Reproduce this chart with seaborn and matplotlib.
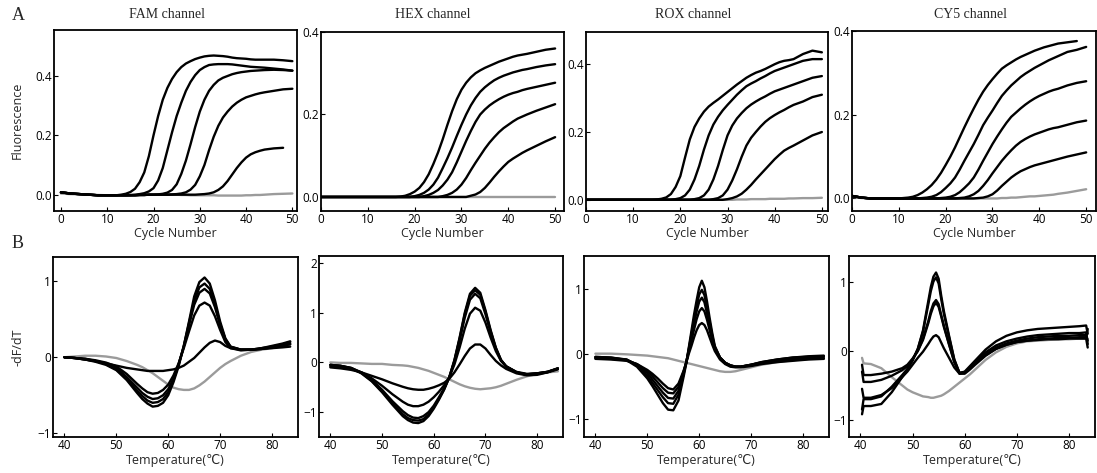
import numpy as np
import pandas as pd
import matplotlib
matplotlib.use("Agg")
import matplotlib.pyplot as plt
import seaborn as sns

# ---------------- data: amplification ----------------
cycles = [0, 2, 4, 6, 8, 10, 12, 13, 14, 15, 16, 17, 18, 19, 20, 21, 22, 23, 24, 25, 26, 27, 28,
          29, 30, 31, 32, 33, 34, 35, 36, 37, 38, 39, 40, 41, 42, 43, 44, 46, 48, 50]

fam_start = [0.008, 0.004, 0.002, 0.0, -0.002, -0.002, -0.002]
fam_a1 = fam_start + [0.0, 0.003, 0.009, 0.02, 0.042, 0.075, 0.13, 0.2, 0.265, 0.32, 0.36, 0.39, 0.413, 0.43, 0.442, 0.45, 0.457, 0.462, 0.466, 0.468, 0.469, 0.468, 0.467, 0.465, 0.462, 0.46, 0.459, 0.458, 0.456, 0.455, 0.455, 0.455] + [0.455, 0.453, 0.45]
fam_a2 = fam_start + [-0.002, -0.002, -0.001, 0.0, 0.002, 0.005, 0.011, 0.022, 0.048, 0.09, 0.15, 0.21, 0.265, 0.31, 0.35, 0.38, 0.403, 0.42, 0.43, 0.437, 0.439, 0.44, 0.44, 0.44, 0.439, 0.437, 0.435, 0.433, 0.431, 0.43, 0.429, 0.428] + [0.425, 0.422, 0.418]
fam_a3 = fam_start + [-0.002, -0.002, -0.002, -0.002, -0.001, -0.001, 0.0, 0.0, 0.001, 0.003, 0.007, 0.016, 0.035, 0.07, 0.115, 0.17, 0.228, 0.28, 0.32, 0.35, 0.37, 0.385, 0.394, 0.4, 0.406, 0.41, 0.413, 0.415, 0.417, 0.418, 0.419, 0.42] + [0.421, 0.42, 0.418]
fam_a4 = fam_start + [-0.002, -0.002, -0.002, -0.002, -0.001, -0.001, 0.0, 0.0, 0.0, 0.0, 0.0, 0.001, 0.002, 0.004, 0.008, 0.017, 0.033, 0.062, 0.1, 0.15, 0.195, 0.232, 0.26, 0.28, 0.297, 0.31, 0.32, 0.328, 0.333, 0.338, 0.342, 0.345] + [0.35, 0.355, 0.357]
fam_a5 = fam_start + [-0.002, -0.002, -0.002, -0.002, -0.001, -0.001, 0.0, 0.0, 0.0, 0.0, 0.0, 0.0, 0.0, 0.0, 0.0, 0.0, 0.0, 0.001, 0.002, 0.004, 0.008, 0.016, 0.028, 0.046, 0.068, 0.09, 0.109, 0.125, 0.136, 0.143, 0.148, 0.152] + [0.156, 0.158, np.nan]
fam_neg = [0.004, 0.002, 0.001, 0.0, -0.001, -0.002, -0.002] + [-0.002, -0.002, -0.002, -0.001, -0.001, 0.0, 0.0, 0.0, 0.0, 0.0, 0.0, 0.0, 0.0, -0.001, -0.001, -0.002, -0.002, -0.002, -0.002, -0.002, -0.002, -0.003, -0.003, -0.003, -0.003, -0.003, -0.003, -0.002, -0.002, -0.001, -0.001, 0.0] + [0.002, 0.003, 0.004]

hex_a1 = [0.0] * 7 + [0.0, 0.0, 0.0, 0.0, 0.001, 0.003, 0.007, 0.013, 0.022, 0.036, 0.055, 0.08, 0.108, 0.14, 0.175, 0.208, 0.237, 0.26, 0.277, 0.29, 0.3, 0.307, 0.313, 0.318, 0.323, 0.328, 0.332, 0.336, 0.34, 0.343, 0.345, 0.347] + [0.352, 0.357, 0.36]
hex_a2 = [0.0] * 7 + [0.0] * 7 + [0.002, 0.005, 0.01, 0.018, 0.03, 0.047, 0.07, 0.094, 0.12, 0.148, 0.175, 0.2, 0.222, 0.24, 0.255, 0.266, 0.275, 0.283, 0.289, 0.294, 0.298, 0.302, 0.305, 0.308, 0.31] + [0.315, 0.319, 0.322]
hex_a3 = [0.0] * 7 + [0.0] * 9 + [0.002, 0.005, 0.01, 0.017, 0.028, 0.042, 0.06, 0.084, 0.11, 0.136, 0.16, 0.182, 0.2, 0.212, 0.222, 0.23, 0.237, 0.243, 0.248, 0.252, 0.255, 0.259, 0.262] + [0.267, 0.272, 0.277]
hex_a4 = [0.0] * 7 + [0.0] * 13 + [0.002, 0.005, 0.01, 0.018, 0.03, 0.046, 0.065, 0.083, 0.1, 0.117, 0.132, 0.145, 0.157, 0.167, 0.175, 0.183, 0.19, 0.195, 0.2] + [0.209, 0.217, 0.225]
hex_a5 = [0.0] * 7 + [0.0] * 19 + [0.003, 0.006, 0.012, 0.022, 0.035, 0.049, 0.062, 0.074, 0.085, 0.093, 0.1, 0.107, 0.113] + [0.124, 0.135, 0.145]
hex_neg = [0.0] * 42

rox_a1 = [0.0] * 7 + [0.0, 0.0, 0.001, 0.003, 0.007, 0.017, 0.038, 0.07, 0.125, 0.178, 0.215, 0.24, 0.26, 0.275, 0.286, 0.296, 0.307, 0.318, 0.329, 0.34, 0.35, 0.36, 0.368, 0.375, 0.38, 0.386, 0.393, 0.4, 0.406, 0.41, 0.412, 0.415] + [0.43, 0.44, 0.435]
rox_a2 = [0.0] * 7 + [0.0] * 6 + [0.002, 0.005, 0.013, 0.03, 0.06, 0.1, 0.148, 0.19, 0.222, 0.245, 0.264, 0.28, 0.295, 0.31, 0.323, 0.335, 0.343, 0.35, 0.358, 0.365, 0.373, 0.38, 0.385, 0.39, 0.395, 0.4] + [0.41, 0.415, 0.415]
rox_a3 = [0.0] * 7 + [0.0] * 10 + [0.002, 0.005, 0.013, 0.03, 0.06, 0.1, 0.147, 0.19, 0.219, 0.24, 0.256, 0.27, 0.281, 0.29, 0.298, 0.305, 0.313, 0.32, 0.325, 0.33, 0.335, 0.34] + [0.35, 0.36, 0.365]
rox_a4 = [0.0] * 7 + [0.0] * 14 + [0.002, 0.005, 0.013, 0.03, 0.057, 0.09, 0.127, 0.16, 0.183, 0.2, 0.216, 0.23, 0.241, 0.25, 0.258, 0.265, 0.273, 0.28] + [0.29, 0.303, 0.31]
rox_a5 = [0.0] * 7 + [0.0] * 17 + [0.002, 0.005, 0.01, 0.018, 0.03, 0.044, 0.06, 0.075, 0.09, 0.105, 0.12, 0.133, 0.145, 0.153, 0.16] + [0.175, 0.19, 0.2]
rox_neg = [0.0] * 7 + [0.0] * 19 + [0.001, 0.001, 0.001, 0.002, 0.002, 0.002, 0.002, 0.003, 0.003, 0.003, 0.003, 0.004, 0.004] + [0.005, 0.005, 0.006]

cy5_a1 = [0.006, 0.002, 0.0, 0.0, 0.0, 0.0, 0.002] + [0.004, 0.008, 0.014, 0.022, 0.032, 0.045, 0.061, 0.08, 0.1, 0.122, 0.146, 0.17, 0.193, 0.215, 0.236, 0.255, 0.271, 0.285, 0.298, 0.31, 0.318, 0.325, 0.332, 0.338, 0.343, 0.348, 0.353, 0.357, 0.361, 0.364, 0.367, 0.37] + [0.373, 0.376, np.nan]
cy5_a2 = [0.006, 0.002, 0.0, 0.0, 0.0, 0.0, 0.0] + [0.0, 0.0, 0.001, 0.002, 0.004, 0.008, 0.015, 0.025, 0.036, 0.05, 0.069, 0.09, 0.11, 0.13, 0.152, 0.175, 0.193, 0.21, 0.228, 0.245, 0.258, 0.27, 0.28, 0.29, 0.298, 0.305, 0.312, 0.318, 0.324, 0.33, 0.335, 0.34] + [0.35, 0.355, 0.362]
cy5_a3 = [0.006, 0.002, 0.0, 0.0, 0.0, 0.0, 0.0] + [0.0] * 6 + [0.001, 0.002, 0.004, 0.008, 0.015, 0.025, 0.036, 0.05, 0.069, 0.09, 0.11, 0.13, 0.148, 0.165, 0.181, 0.195, 0.205, 0.215, 0.224, 0.232, 0.239, 0.245, 0.25, 0.255, 0.259, 0.262] + [0.27, 0.276, 0.28]
cy5_a4 = [0.006, 0.002, 0.0, 0.0, 0.0, 0.0, 0.0] + [0.0] * 10 + [0.001, 0.002, 0.005, 0.01, 0.018, 0.03, 0.044, 0.06, 0.075, 0.09, 0.103, 0.115, 0.126, 0.135, 0.142, 0.148, 0.153, 0.157, 0.161, 0.165, 0.168, 0.17] + [0.176, 0.182, 0.186]
cy5_a5 = [0.006, 0.002, 0.0, 0.0, 0.0, 0.0, 0.0] + [0.0] * 14 + [0.001, 0.002, 0.005, 0.01, 0.019, 0.03, 0.04, 0.05, 0.058, 0.065, 0.07, 0.075, 0.079, 0.082, 0.085, 0.088, 0.091, 0.094] + [0.1, 0.105, 0.11]
cy5_neg = [0.004, 0.001, 0.0, 0.0, 0.0, 0.0, 0.0] + [0.0] * 19 + [0.001, 0.001, 0.002, 0.002, 0.003, 0.004, 0.005, 0.005, 0.006, 0.007, 0.008, 0.009, 0.011] + [0.014, 0.018, 0.022]

# ---------------- data: melt curves (-dF/dT) ----------------
fam_t = [40, 42, 44, 46, 48, 50, 52, 54, 55, 56, 57, 58, 59, 60, 61, 62, 63, 64, 65, 66, 67, 68, 69, 70, 71, 72, 74, 76, 78, 80, 82, 83.5]
fam_m1 = [0.0, -0.01, -0.03, -0.06, -0.1, -0.17, -0.3, -0.47, -0.55, -0.61, -0.65, -0.64, -0.6, -0.5, -0.33, -0.12, 0.15, 0.47, 0.8, 0.99, 1.05, 0.97, 0.75, 0.47, 0.25, 0.14, 0.1, 0.1, 0.12, 0.15, 0.18, 0.21]
fam_m2 = [0.0, -0.01, -0.03, -0.05, -0.09, -0.16, -0.28, -0.44, -0.51, -0.57, -0.6, -0.59, -0.55, -0.46, -0.3, -0.1, 0.15, 0.45, 0.74, 0.92, 0.97, 0.9, 0.7, 0.44, 0.24, 0.14, 0.1, 0.1, 0.12, 0.14, 0.17, 0.2]
fam_m3 = [0.0, -0.01, -0.02, -0.05, -0.08, -0.14, -0.26, -0.4, -0.47, -0.52, -0.55, -0.54, -0.5, -0.42, -0.28, -0.09, 0.14, 0.42, 0.69, 0.85, 0.9, 0.84, 0.66, 0.42, 0.23, 0.13, 0.1, 0.1, 0.11, 0.13, 0.16, 0.18]
fam_m4 = [0.0, -0.01, -0.02, -0.04, -0.07, -0.12, -0.22, -0.35, -0.41, -0.46, -0.48, -0.47, -0.43, -0.36, -0.24, -0.08, 0.12, 0.34, 0.55, 0.68, 0.72, 0.68, 0.54, 0.36, 0.2, 0.12, 0.09, 0.1, 0.11, 0.13, 0.15, 0.17]
fam_m5 = [0.0, -0.01, -0.03, -0.05, -0.08, -0.11, -0.14, -0.16, -0.17, -0.18, -0.18, -0.18, -0.18, -0.17, -0.16, -0.14, -0.11, -0.06, -0.01, 0.06, 0.13, 0.19, 0.22, 0.2, 0.15, 0.12, 0.1, 0.1, 0.11, 0.12, 0.13, 0.14]
fam_mneg = [0.0, 0.01, 0.02, 0.02, 0.01, -0.01, -0.05, -0.1, -0.13, -0.17, -0.21, -0.26, -0.31, -0.36, -0.4, -0.42, -0.43, -0.43, -0.41, -0.37, -0.32, -0.26, -0.2, -0.14, -0.09, -0.05, 0.02, 0.07, 0.1, 0.12, 0.15, 0.17]

hex_t = [40, 42, 44, 46, 48, 50, 52, 54, 55, 56, 57, 58, 59, 60, 61, 62, 63, 64, 65, 66, 67, 68, 69, 70, 71, 72, 73, 74, 76, 78, 80, 82, 84]
hex_m1 = [-0.05, -0.07, -0.12, -0.22, -0.38, -0.6, -0.85, -1.08, -1.16, -1.21, -1.22, -1.18, -1.08, -0.93, -0.75, -0.55, -0.3, 0.05, 0.5, 1.0, 1.38, 1.5, 1.4, 1.05, 0.65, 0.3, 0.05, -0.08, -0.2, -0.25, -0.23, -0.2, -0.12]
hex_m2 = [-0.05, -0.07, -0.11, -0.21, -0.37, -0.58, -0.82, -1.04, -1.12, -1.16, -1.17, -1.14, -1.05, -0.9, -0.73, -0.54, -0.3, 0.04, 0.48, 0.97, 1.34, 1.45, 1.36, 1.02, 0.63, 0.29, 0.05, -0.08, -0.2, -0.24, -0.22, -0.19, -0.12]
hex_m3 = [-0.05, -0.07, -0.11, -0.2, -0.35, -0.55, -0.78, -0.98, -1.06, -1.11, -1.12, -1.08, -1.0, -0.87, -0.7, -0.52, -0.3, 0.02, 0.44, 0.9, 1.26, 1.38, 1.29, 0.97, 0.6, 0.27, 0.04, -0.08, -0.2, -0.24, -0.22, -0.19, -0.12]
hex_m4 = [-0.08, -0.1, -0.13, -0.2, -0.32, -0.47, -0.64, -0.79, -0.85, -0.88, -0.88, -0.85, -0.79, -0.7, -0.59, -0.46, -0.3, -0.04, 0.3, 0.68, 0.98, 1.1, 1.04, 0.8, 0.5, 0.23, 0.03, -0.08, -0.19, -0.23, -0.22, -0.19, -0.13]
hex_m5 = [-0.1, -0.12, -0.15, -0.2, -0.27, -0.34, -0.42, -0.49, -0.52, -0.54, -0.55, -0.55, -0.53, -0.5, -0.46, -0.41, -0.33, -0.2, -0.04, 0.13, 0.28, 0.36, 0.36, 0.28, 0.15, 0.03, -0.06, -0.13, -0.22, -0.26, -0.25, -0.2, -0.14]
hex_mneg = [0.0, -0.01, -0.01, -0.02, -0.03, -0.03, -0.05, -0.06, -0.07, -0.09, -0.11, -0.14, -0.17, -0.21, -0.25, -0.29, -0.34, -0.39, -0.44, -0.48, -0.51, -0.53, -0.54, -0.53, -0.52, -0.5, -0.47, -0.43, -0.35, -0.28, -0.23, -0.2, -0.18]

rox_t = [40, 43, 46, 48, 50, 51, 52, 53, 54, 55, 56, 57, 57.5, 58, 58.5, 59, 59.5, 60, 60.5, 61, 61.5, 62, 62.5, 63, 64, 65, 66, 67, 68, 70, 72, 75, 78, 81, 84]
rox_m1 = [-0.05, -0.06, -0.1, -0.2, -0.38, -0.5, -0.63, -0.76, -0.86, -0.87, -0.72, -0.35, -0.15, 0.1, 0.35, 0.6, 0.82, 1.02, 1.12, 1.02, 0.8, 0.55, 0.32, 0.12, -0.06, -0.14, -0.18, -0.2, -0.2, -0.17, -0.13, -0.09, -0.06, -0.04, -0.03]
rox_m2 = [-0.05, -0.06, -0.09, -0.18, -0.34, -0.45, -0.56, -0.67, -0.76, -0.77, -0.63, -0.31, -0.14, 0.08, 0.3, 0.53, 0.74, 0.91, 0.98, 0.9, 0.7, 0.49, 0.28, 0.1, -0.06, -0.14, -0.18, -0.2, -0.2, -0.17, -0.13, -0.09, -0.06, -0.05, -0.04]
rox_m3 = [-0.06, -0.07, -0.09, -0.17, -0.3, -0.4, -0.5, -0.6, -0.68, -0.69, -0.57, -0.29, -0.13, 0.06, 0.26, 0.46, 0.65, 0.8, 0.86, 0.79, 0.62, 0.43, 0.25, 0.09, -0.06, -0.14, -0.18, -0.2, -0.2, -0.17, -0.14, -0.1, -0.07, -0.06, -0.05]
rox_m4 = [-0.07, -0.08, -0.1, -0.16, -0.27, -0.35, -0.44, -0.53, -0.6, -0.61, -0.51, -0.27, -0.13, 0.04, 0.2, 0.37, 0.53, 0.65, 0.7, 0.65, 0.52, 0.36, 0.21, 0.07, -0.07, -0.15, -0.19, -0.2, -0.2, -0.18, -0.15, -0.11, -0.09, -0.08, -0.07]
rox_m5 = [-0.08, -0.09, -0.11, -0.16, -0.25, -0.31, -0.38, -0.46, -0.53, -0.55, -0.46, -0.26, -0.14, 0.0, 0.12, 0.25, 0.36, 0.44, 0.47, 0.44, 0.36, 0.25, 0.14, 0.04, -0.09, -0.16, -0.2, -0.21, -0.21, -0.19, -0.16, -0.13, -0.11, -0.09, -0.08]
rox_mneg = [0.0, 0.0, -0.01, -0.02, -0.03, -0.04, -0.05, -0.06, -0.07, -0.09, -0.11, -0.13, -0.14, -0.15, -0.16, -0.17, -0.18, -0.19, -0.2, -0.21, -0.22, -0.23, -0.24, -0.25, -0.27, -0.28, -0.28, -0.27, -0.25, -0.21, -0.17, -0.13, -0.1, -0.08, -0.07]

cy5_t = [40.3, 40.6, 42, 44, 46, 48, 49, 50, 51, 52, 53, 53.5, 54, 54.5, 55, 55.5, 56, 57, 58, 59, 60, 61, 62, 64, 66, 68, 70, 72, 74, 76, 78, 80, 82, 83.3, 83.6]
cy5_m1 = [-0.92, -0.8, -0.8, -0.77, -0.6, -0.38, -0.27, -0.14, 0.03, 0.3, 0.72, 0.93, 1.08, 1.14, 1.05, 0.8, 0.58, 0.22, -0.12, -0.32, -0.3, -0.22, -0.14, 0.02, 0.14, 0.22, 0.27, 0.3, 0.32, 0.33, 0.34, 0.35, 0.36, 0.37, 0.25]
cy5_m2 = [-0.85, -0.7, -0.7, -0.66, -0.52, -0.35, -0.26, -0.13, 0.03, 0.28, 0.67, 0.87, 1.01, 1.07, 0.98, 0.75, 0.54, 0.2, -0.13, -0.32, -0.31, -0.24, -0.16, -0.02, 0.08, 0.14, 0.18, 0.21, 0.23, 0.24, 0.25, 0.26, 0.26, 0.27, 0.1]
cy5_m3 = [-0.3, -0.45, -0.45, -0.42, -0.36, -0.28, -0.22, -0.12, 0.0, 0.18, 0.43, 0.58, 0.69, 0.74, 0.68, 0.52, 0.37, 0.1, -0.16, -0.33, -0.32, -0.25, -0.18, -0.05, 0.05, 0.11, 0.15, 0.18, 0.2, 0.21, 0.22, 0.22, 0.23, 0.23, 0.15]
cy5_m4 = [-0.2, -0.35, -0.35, -0.33, -0.3, -0.25, -0.2, -0.11, 0.0, 0.16, 0.4, 0.54, 0.65, 0.7, 0.64, 0.5, 0.35, 0.09, -0.16, -0.32, -0.31, -0.25, -0.18, -0.06, 0.03, 0.09, 0.13, 0.15, 0.17, 0.18, 0.19, 0.19, 0.2, 0.2, 0.32]
cy5_m5 = [-0.55, -0.68, -0.68, -0.64, -0.54, -0.38, -0.3, -0.2, -0.1, -0.01, 0.1, 0.16, 0.21, 0.23, 0.2, 0.12, 0.04, -0.1, -0.24, -0.33, -0.33, -0.27, -0.2, -0.07, 0.03, 0.09, 0.13, 0.15, 0.16, 0.17, 0.17, 0.18, 0.18, 0.18, 0.05]
cy5_mneg = [-0.1, -0.18, -0.19, -0.25, -0.38, -0.5, -0.56, -0.6, -0.63, -0.66, -0.67, -0.68, -0.68, -0.67, -0.66, -0.65, -0.63, -0.58, -0.52, -0.46, -0.4, -0.34, -0.27, -0.13, -0.02, 0.06, 0.11, 0.14, 0.15, 0.16, 0.17, 0.17, 0.18, 0.18, 0.18]

channels = ["FAM channel", "HEX channel", "ROX channel", "CY5 channel"]

# ---------------- style ----------------
sns.set_theme(style="ticks")
plt.rcParams['font.family'] = ['Open Sans', 'DejaVu Sans']
plt.rcParams.update({
    'xtick.direction': 'in', 'ytick.direction': 'in',
    'xtick.major.size': 3, 'ytick.major.size': 3,
    'xtick.major.width': 0.8, 'ytick.major.width': 0.8,
    'xtick.major.pad': 1.2, 'ytick.major.pad': 1.5,
    'xtick.labelsize': 8.5, 'ytick.labelsize': 8.5,
    'axes.linewidth': 1.3, 'axes.edgecolor': 'black',
    'xtick.color': 'black', 'ytick.color': 'black',
})

W, H = 1097, 473
fig = plt.figure(figsize=(W / 100, H / 100), dpi=100)


def px_axes(left, top, right, bottom):
    return fig.add_axes([left / W, 1 - bottom / H, (right - left) / W, (bottom - top) / H])


def draw(ax, x, curves, neg):
    frames = [pd.DataFrame({'x': x, 'y': neg, 's': 'neg'})]
    for i, c in enumerate(curves):
        frames.append(pd.DataFrame({'x': x, 'y': c, 's': f's{i}'}))
    df = pd.concat(frames, ignore_index=True).dropna()
    order = ['neg'] + [f's{i}' for i in range(len(curves))]
    pal = {k: ('#9b9b9b' if k == 'neg' else 'black') for k in order}
    sns.lineplot(data=df, x='x', y='y', hue='s', hue_order=order, palette=pal,
                 estimator=None, sort=False, legend=False, linewidth=1.7, ax=ax)
    ax.set_xlabel('')
    ax.set_ylabel('')


amp_sets = [
    ([fam_a1, fam_a2, fam_a3, fam_a4, fam_a5], fam_neg),
    ([hex_a1, hex_a2, hex_a3, hex_a4, hex_a5], hex_neg),
    ([rox_a1, rox_a2, rox_a3, rox_a4, rox_a5], rox_neg),
    ([cy5_a1, cy5_a2, cy5_a3, cy5_a4, cy5_a5], cy5_neg),
]
melt_sets = [
    (fam_t, [fam_m1, fam_m2, fam_m3, fam_m4, fam_m5], fam_mneg),
    (hex_t, [hex_m1, hex_m2, hex_m3, hex_m4, hex_m5], hex_mneg),
    (rox_t, [rox_m1, rox_m2, rox_m3, rox_m4, rox_m5], rox_mneg),
    (cy5_t, [cy5_m1, cy5_m2, cy5_m3, cy5_m4, cy5_m5], cy5_mneg),
]

top_boxes = [(54, 30, 297, 211), (321, 32, 564, 211), (586, 32, 828, 211), (852, 31, 1096, 211)]
top_ylims = [(-0.055, 0.555), (-0.034, 0.4), (-0.033, 0.495), (-0.03, 0.4)]
top_xlims = [(-1.5, 51), (0, 51.9), (0, 51.3), (0, 52.1)]
title_x = [167, 433, 693, 970]

bot_boxes = [(53, 257, 298, 437), (319, 256, 563, 437), (584, 256, 829, 437), (849, 256, 1095, 437)]
bot_ylims = [(-1.05, 1.32), (-1.5, 2.14), (-1.28, 1.5), (-1.25, 1.38)]
bot_yticks = [[-1, 0, 1], [-1, 0, 1, 2], [-1, 0, 1], [-1, 0, 1]]

serif = ['Liberation Serif', 'DejaVu Serif']

for i in range(4):
    ax = px_axes(*top_boxes[i])
    curves, neg = amp_sets[i]
    draw(ax, cycles, curves, neg)
    ax.set_xlim(*top_xlims[i])
    ax.set_ylim(*top_ylims[i])
    ax.set_xticks([0, 10, 20, 30, 40, 50])
    ax.set_yticks([0.0, 0.2, 0.4])
    ax.set_yticklabels(['0.0', '0.2', '0.4'])
    ax.set_xlabel('Cycle Number', fontsize=9, labelpad=0)
    ax.xaxis.set_label_coords(0.5, -0.09)
    for s in ax.spines.values():
        s.set_visible(True)
    fig.text(title_x[i] / W, 1 - 15 / H, channels[i], family=serif, fontsize=10,
             ha='center', va='center')
    if i == 0:
        ax.set_ylabel('Fluorescence', fontsize=9)
        ax.yaxis.set_label_coords(-0.125, 0.5)

for i in range(4):
    ax = px_axes(*bot_boxes[i])
    t, curves, neg = melt_sets[i]
    draw(ax, t, curves, neg)
    ax.set_xlim(37.8, 85)
    ax.set_ylim(*bot_ylims[i])
    ax.set_xticks([40, 50, 60, 70, 80])
    ax.set_yticks(bot_yticks[i])
    ax.set_xlabel('Temperature(\u2103)', fontsize=9, labelpad=0)
    ax.xaxis.set_label_coords(0.5, -0.095)
    for s in ax.spines.values():
        s.set_visible(True)
    if i == 0:
        ax.set_ylabel('-dF/dT', fontsize=9)
        ax.yaxis.set_label_coords(-0.115, 0.5)

fig.text(18 / W, 1 - 15 / H, 'A', family=serif, fontsize=13, ha='center', va='center')
fig.text(18 / W, 1 - 243 / H, 'B', family=serif, fontsize=13, ha='center', va='center')

fig.savefig('out.png', dpi=100)
